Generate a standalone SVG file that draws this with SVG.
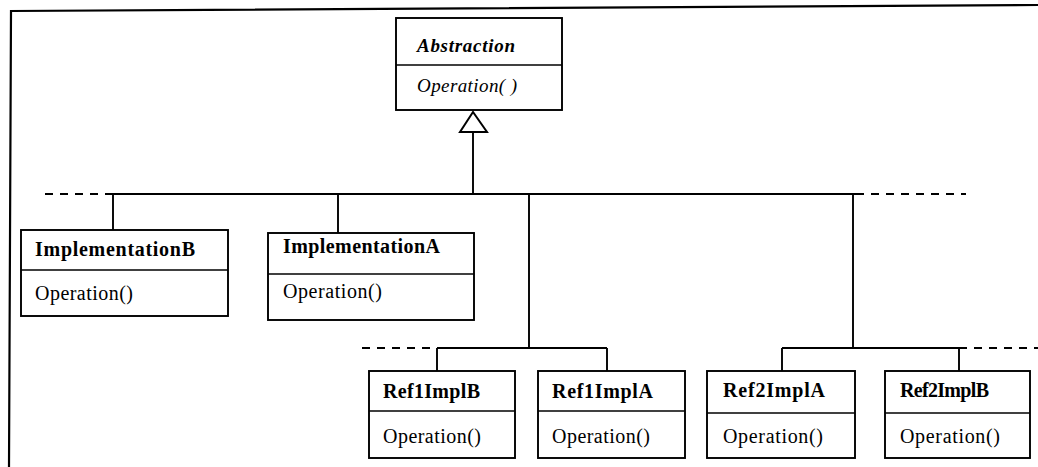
<svg xmlns="http://www.w3.org/2000/svg" width="1038" height="467" viewBox="0 0 1038 467">
  <style>
    .box { fill: #ffffff; stroke: #000000; stroke-width: 1.9; }
    .div { stroke: #000000; stroke-width: 1.6; }
    .wire { fill: none; stroke: #000000; stroke-width: 1.9; }
    .dash { fill: none; stroke: #000000; stroke-width: 1.9; stroke-dasharray: 8 7; }
    .frame { fill: none; stroke: #000000; stroke-width: 2.2; }
    .name { font-family: "Liberation Serif", "Times New Roman", serif; font-size: 20px; font-weight: bold; fill: #000000; }
    .op { font-family: "Liberation Serif", "Times New Roman", serif; font-size: 20px; fill: #000000; }
    .abs-name { font-family: "Liberation Serif", "Times New Roman", serif; font-size: 19px; font-weight: bold; font-style: italic; fill: #000000; }
    .abs-op { font-family: "Liberation Serif", "Times New Roman", serif; font-size: 19px; font-style: italic; fill: #000000; }
    .tri { fill: #ffffff; stroke: #000000; stroke-width: 2; stroke-linejoin: miter; }
  </style>

  <!-- page frame -->
  <path class="frame" d="M 9 467 L 11 11 L 1038 5"/>

  <g id="connectors">
    <!-- generalization to Abstraction -->
    <line class="wire" x1="473" y1="132" x2="473" y2="194"/>
    <polygon class="tri" points="473,112 460,132 487,132"/>
    <!-- upper bus -->
    <line class="dash" x1="45" y1="194" x2="113" y2="194"/>
    <line class="wire" x1="113" y1="194" x2="856" y2="194"/>
    <line class="dash" x1="856" y1="194" x2="966" y2="194"/>
    <line class="wire" x1="113" y1="194" x2="113" y2="230"/>
    <line class="wire" x1="338" y1="194" x2="338" y2="233"/>
    <line class="wire" x1="529" y1="194" x2="529" y2="348"/>
    <line class="wire" x1="853" y1="194" x2="853" y2="348"/>
    <!-- lower left bus -->
    <line class="dash" x1="362" y1="348" x2="437" y2="348"/>
    <line class="wire" x1="437" y1="348" x2="607" y2="348"/>
    <line class="wire" x1="437" y1="348" x2="437" y2="371"/>
    <line class="wire" x1="607" y1="348" x2="607" y2="371"/>
    <!-- lower right bus -->
    <line class="wire" x1="782" y1="348" x2="959" y2="348"/>
    <line class="dash" x1="959" y1="348" x2="1038" y2="348"/>
    <line class="wire" x1="782" y1="348" x2="782" y2="371"/>
    <line class="wire" x1="959" y1="348" x2="959" y2="371"/>
  </g>

  <g id="abstraction">
    <rect class="box" x="396" y="18" width="166" height="92"/>
    <line class="div" x1="396" y1="65" x2="562" y2="65"/>
    <text class="abs-name" x="417" y="52" textLength="98" lengthAdjust="spacing">Abstraction</text>
    <text class="abs-op" x="417" y="92" textLength="100" lengthAdjust="spacing">Operation( )</text>
  </g>

  <g id="implementationB">
    <rect class="box" x="21" y="230" width="207" height="86"/>
    <line class="div" x1="21" y1="270" x2="228" y2="270"/>
    <text class="name" x="35" y="256" textLength="160" lengthAdjust="spacing">ImplementationB</text>
    <text class="op" x="35" y="300" textLength="98" lengthAdjust="spacing">Operation()</text>
  </g>

  <g id="implementationA">
    <rect class="box" x="268" y="233" width="206" height="87"/>
    <line class="div" x1="268" y1="274" x2="474" y2="274"/>
    <text class="name" x="283" y="253" textLength="157" lengthAdjust="spacing">ImplementationA</text>
    <text class="op" x="283" y="298" textLength="99" lengthAdjust="spacing">Operation()</text>
  </g>

  <g id="ref1ImplB">
    <rect class="box" x="369" y="371" width="146" height="87"/>
    <line class="div" x1="369" y1="411" x2="515" y2="411"/>
    <text class="name" x="383" y="398" textLength="97" lengthAdjust="spacing">Ref1ImplB</text>
    <text class="op" x="383" y="443" textLength="98" lengthAdjust="spacing">Operation()</text>
  </g>

  <g id="ref1ImplA">
    <rect class="box" x="538" y="371" width="147" height="87"/>
    <line class="div" x1="538" y1="411" x2="685" y2="411"/>
    <text class="name" x="552" y="398" textLength="101" lengthAdjust="spacing">Ref1ImplA</text>
    <text class="op" x="552" y="443" textLength="98" lengthAdjust="spacing">Operation()</text>
  </g>

  <g id="ref2ImplA">
    <rect class="box" x="707" y="371" width="148" height="87"/>
    <line class="div" x1="707" y1="413" x2="855" y2="413"/>
    <text class="name" x="723" y="397" textLength="102" lengthAdjust="spacing">Ref2ImplA</text>
    <text class="op" x="723" y="443" textLength="100" lengthAdjust="spacing">Operation()</text>
  </g>

  <g id="ref2ImplB">
    <rect class="box" x="885" y="371" width="145" height="87"/>
    <line class="div" x1="885" y1="413" x2="1030" y2="413"/>
    <text class="name" x="900" y="397" textLength="89" lengthAdjust="spacing">Ref2ImplB</text>
    <text class="op" x="900" y="443" textLength="100" lengthAdjust="spacing">Operation()</text>
  </g>
</svg>
